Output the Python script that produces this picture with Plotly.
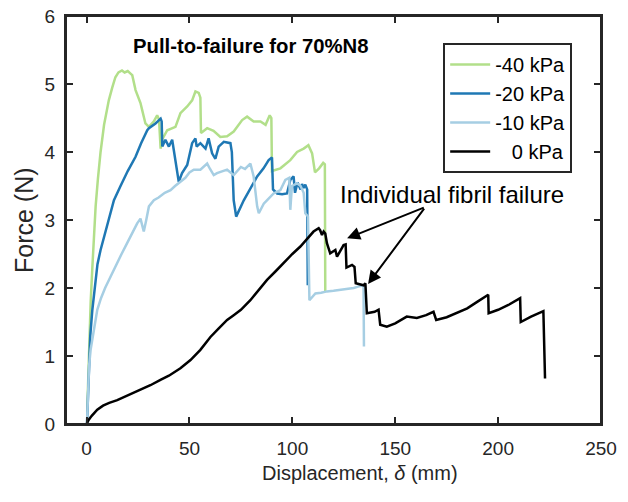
import plotly.graph_objects as go

# Pull-to-failure curves: displacement (mm) vs force (N) for each suction pressure
x_40 = [0.3, 0.7, 1.2, 2.0, 2.8, 3.6, 4.4, 5.5, 6.8, 8.5, 10.8, 12.5, 14.0, 15.5, 17.2,
        18.5, 20.0, 21.5, 22.2, 23.8, 26.2, 27.0, 28.6, 30.3, 32.7, 34.3, 35.2, 36.0, 36.7,
        39.2, 43.2, 45.6, 48.9, 51.3, 52.9, 54.5, 55.3, 55.6, 58.6, 61.7, 65.0, 68.3, 71.5,
        75.6, 78.0, 81.2, 84.5, 87.0, 89.0, 89.8, 90.1, 94.2, 99.0, 102.3, 105.5, 107.8,
        109.6, 111.0, 113.0, 115.0, 115.8, 116.0]
y_40 = [0.18, 0.6, 1.0, 1.8, 2.3, 2.8, 3.2, 3.6, 4.0, 4.4, 4.76, 4.95, 5.1, 5.17, 5.2,
        5.17, 5.19, 5.15, 5.13, 4.91, 4.72, 4.62, 4.42, 4.37, 4.45, 4.54, 4.48, 4.05, 4.18,
        4.32, 4.37, 4.57, 4.67, 4.76, 4.89, 4.87, 4.8, 4.28, 4.35, 4.31, 4.22, 4.23, 4.3,
        4.47, 4.52, 4.45, 4.45, 4.4, 4.54, 4.5, 3.72, 3.76, 3.88, 4.0, 4.05, 4.1,
        3.98, 3.7, 3.76, 3.84, 3.82, 1.95]

x_20 = [0.2, 0.6, 1.1, 1.8, 2.8, 4.0, 5.3, 6.8, 8.4, 10.5, 13.3, 16.5, 20.0, 23.8, 26.5,
        29.5, 30.3, 33.5, 36.0, 36.5, 36.8, 38.3, 40.0, 41.6, 43.2, 44.8, 46.4, 48.9, 51.3,
        52.9, 53.5, 55.3, 57.8, 59.3, 61.0, 62.6, 64.2, 66.7, 69.9, 70.6, 71.5, 72.7, 76.4,
        79.5, 82.9, 86.0, 88.5, 90.1, 90.6, 92.6, 95.0, 97.4, 99.0, 100.6, 101.3, 102.5,
        104.0, 104.7, 105.5, 106.3, 107.2, 107.5]
y_20 = [0.0, 0.4, 0.84, 1.3, 1.68, 2.05, 2.35, 2.56, 2.75, 2.98, 3.29, 3.5, 3.72, 3.93, 4.13,
        4.32, 4.35, 4.42, 4.49, 4.45, 4.08, 4.18, 4.08, 4.18, 3.88, 3.56, 3.69, 3.81, 4.13,
        4.2, 4.08, 4.13, 4.05, 4.2, 3.98, 3.9, 4.08, 4.15, 4.13, 4.0, 3.29, 3.05, 3.29,
        3.45, 3.64, 3.76, 3.88, 3.92, 3.45, 3.39, 3.38, 3.39, 3.59, 3.64, 3.4, 3.55,
        3.45, 3.53, 3.47, 3.52, 3.45, 2.04]

x_10 = [0.2, 0.6, 1.2, 2.0, 2.8, 4.0, 5.2, 7.0, 9.0, 11.7, 14.0, 17.0, 19.7, 22.0, 24.6,
        26.2, 27.8, 29.0, 30.3, 32.7, 35.0, 38.0, 40.8, 43.0, 45.6, 48.0, 50.0, 52.1, 55.3,
        58.6, 60.0, 61.8, 63.4, 66.0, 68.3, 71.5, 75.0, 77.0, 79.6, 81.2, 82.9, 83.7, 86.1,
        88.0, 90.9, 94.2, 96.6, 98.5, 99.0, 99.8, 102.3, 104.0, 105.5, 106.3, 107.6, 108.3,
        111.2, 114.0, 116.8, 120.0, 123.3, 126.0, 129.8, 132.0, 134.6, 134.8]
y_10 = [0.0, 0.4, 0.85, 1.1, 1.24, 1.45, 1.68, 1.85, 2.0, 2.17, 2.32, 2.5, 2.66, 2.8, 2.95,
        3.02, 2.83, 3.0, 3.2, 3.29, 3.33, 3.4, 3.44, 3.5, 3.56, 3.62, 3.7, 3.74, 3.74,
        3.83, 3.75, 3.66, 3.69, 3.72, 3.74, 3.66, 3.78, 3.75, 3.83, 3.64, 3.2, 3.1, 3.24,
        3.3, 3.39, 3.44, 3.59, 3.62, 3.15, 3.5, 3.54, 3.5, 3.4, 3.1, 3.05, 1.82,
        1.92, 1.93, 1.95, 1.96, 1.97, 1.98, 2.0, 2.02, 2.04, 1.14]

x_0 = [0.0, 1.0, 2.5, 5.2, 8.0, 11.0, 14.9, 20.0, 26.2, 31.0, 35.9, 40.0, 45.6, 50.5, 55.3,
       57.5, 60.2, 64.0, 68.3, 71.5, 75.0, 79.6, 83.0, 87.7, 92.0, 96.0, 100.0, 103.9, 107.0,
       110.3, 112.8, 113.5, 114.4, 115.2, 116.0, 116.8, 118.4, 120.9, 121.7, 124.9, 125.9,
       126.3, 129.0, 130.2, 130.8, 134.6, 135.5, 136.2, 140.0, 141.9, 142.7, 145.9, 150.0,
       155.6, 160.5, 165.0, 168.6, 169.9, 175.0, 179.9, 185.0, 190.0, 195.2, 195.4, 200.0,
       205.0, 210.7, 211.0, 216.0, 222.0, 222.8]
y_0 = [0.0, 0.06, 0.12, 0.21, 0.27, 0.31, 0.35, 0.42, 0.5, 0.57, 0.65, 0.71, 0.82, 0.94, 1.09,
       1.18, 1.28, 1.4, 1.53, 1.6, 1.68, 1.82, 1.95, 2.12, 2.25, 2.38, 2.5, 2.61, 2.72,
       2.83, 2.88, 2.85, 2.78, 2.83, 2.8, 2.66, 2.51, 2.56, 2.46, 2.63, 2.64,
       2.3, 2.34, 2.31, 2.07, 2.04, 2.07, 1.63, 1.65, 1.68, 1.46, 1.43, 1.48,
       1.58, 1.56, 1.6, 1.65, 1.53, 1.57, 1.63, 1.7, 1.8, 1.9, 1.63, 1.68,
       1.75, 1.85, 1.5, 1.58, 1.66, 0.67]

series_names = ["-40 kPa", "-20 kPa", "-10 kPa", "\u00a0\u00a0\u00a00 kPa"]
series_colors = ["#b2df8a", "#1f78b4", "#a6cee3", "#000000"]
series_x = [x_40, x_20, x_10, x_0]
series_y = [y_40, y_20, y_10, y_0]

x_ticks = [0, 50, 100, 150, 200, 250]
y_ticks = [0, 1, 2, 3, 4, 5, 6]

# Arrow tail (shared) and the two failure points it points at
arrow_tail = (164.6, 3.19)
failure_points = [(126.6, 2.73), (136.8, 2.06)]

FONT = "Liberation Sans, Arial, Helvetica, sans-serif"
AXIS_COLOR = "#262626"

fig = go.Figure()
for name, color, xs, ys in zip(series_names, series_colors, series_x, series_y):
    fig.add_trace(go.Scatter(x=xs, y=ys, mode="lines", name=name,
                             line=dict(color=color, width=2.5)))

axis_common = dict(
    showgrid=False, zeroline=False, showline=True, linecolor=AXIS_COLOR, linewidth=2,
    mirror="ticks", ticks="inside", ticklen=7, tickwidth=1.5, tickcolor=AXIS_COLOR,
    tickfont=dict(family=FONT, size=19, color=AXIS_COLOR),
)

fig.update_layout(
    width=628, height=502,
    margin=dict(l=66, r=27, t=16, b=78, autoexpand=False),
    paper_bgcolor="white", plot_bgcolor="white",
    font=dict(family=FONT, color="black"),
    xaxis=dict(range=[-10, 250], tickvals=x_ticks, ticklabelstandoff=6, **axis_common),
    yaxis=dict(range=[0, 6], tickvals=y_ticks, ticklabelstandoff=5, **axis_common),
    legend=dict(x=0.705, y=0.934, xanchor="left", yanchor="top",
                bgcolor="white", bordercolor=AXIS_COLOR, borderwidth=2,
                font=dict(family=FONT, size=20, color="black"),
                itemwidth=40, tracegroupgap=0),
    showlegend=True,
)

# axes frame
fig.add_shape(type="rect", xref="paper", yref="paper", x0=0, x1=1, y0=0, y1=1,
              line=dict(color=AXIS_COLOR, width=2), fillcolor="rgba(0,0,0,0)",
              layer="above")

annotations = [
    dict(text="<b>Pull-to-failure for 70%N8</b>", x=80, y=5.56, xref="x", yref="y",
         xanchor="center", yanchor="middle",
         showarrow=False, font=dict(size=20.3, color="black")),
    dict(text="Individual fibril failure", x=177.5, y=3.37, xref="x", yref="y",
         xanchor="center", yanchor="middle",
         showarrow=False, font=dict(size=24, color="black")),
    dict(text="Displacement, <i>δ</i> (mm)", x=0.5495, y=-0.12, xref="paper", yref="paper",
         xanchor="center", yanchor="middle",
         showarrow=False, font=dict(size=20, color=AXIS_COLOR)),
    dict(text="Force (N)", x=-0.0785, y=0.5, xref="paper", yref="paper", textangle=-90,
         xanchor="center", yanchor="middle",
         showarrow=False, font=dict(size=25, color=AXIS_COLOR)),
]
for hx, hy in failure_points:
    annotations.append(dict(
        text="", x=hx, y=hy, xref="x", yref="y",
        ax=arrow_tail[0], ay=arrow_tail[1], axref="x", ayref="y",
        showarrow=True, arrowhead=2, arrowsize=1.3, arrowwidth=2, arrowcolor="black",
        standoff=0, startstandoff=0,
    ))
fig.update_layout(annotations=annotations)

fig.write_html("out.html")
